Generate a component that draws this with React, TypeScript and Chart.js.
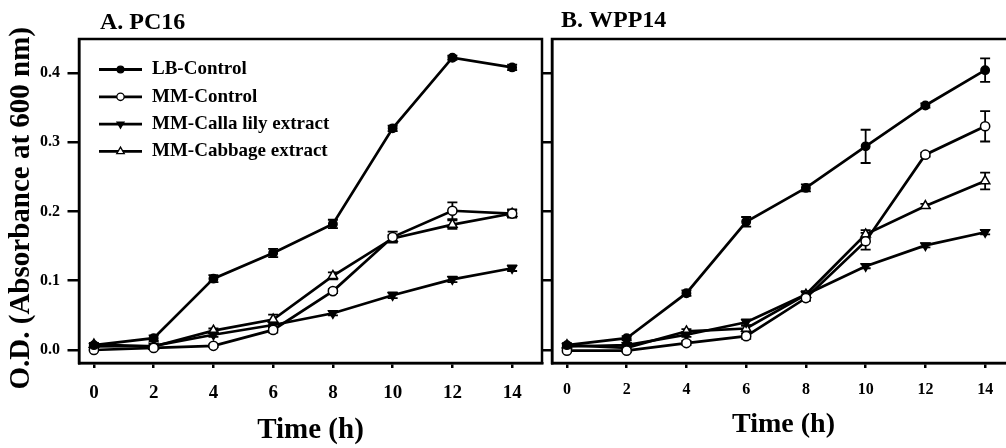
import React, { useEffect, useRef } from 'react';
import { Chart, registerables } from 'chart.js';
import * as helpers from 'chart.js/helpers';

Chart.register(...registerables);

const FONT = '"Liberation Serif", "Times New Roman", serif';

// ---------- data ----------
const timeHours = [0, 2, 4, 6, 8, 10, 12, 14];
const yTickValues = [0, 0.1, 0.2, 0.3, 0.4];
const seriesLabels = ['LB-Control', 'MM-Control', 'MM-Calla lily extract', 'MM-Cabbage extract'];

// Panel A: PC16
const pc16LB = [0.007, 0.017, 0.103, 0.140, 0.182, 0.320, 0.422, 0.408];
const pc16LBErr = [0.003, 0.004, 0.005, 0.006, 0.006, 0.004, 0.003, 0.004];
const pc16MM = [0.000, 0.003, 0.006, 0.029, 0.085, 0.163, 0.201, 0.197];
const pc16MMErr = [0.001, 0.002, 0.002, 0.004, 0.003, 0.008, 0.012, 0.005];
const pc16Calla = [0.005, 0.006, 0.022, 0.036, 0.053, 0.079, 0.102, 0.118];
const pc16CallaErr = [0.002, 0.002, 0.003, 0.004, 0.003, 0.004, 0.004, 0.004];
const pc16Cabbage = [0.008, 0.005, 0.028, 0.044, 0.107, 0.161, 0.181, 0.197];
const pc16CabbageErr = [0.002, 0.002, 0.003, 0.007, 0.005, 0.005, 0.006, 0.006];

// Panel B: WPP14
const wpp14LB = [0.007, 0.017, 0.082, 0.185, 0.234, 0.294, 0.353, 0.404];
const wpp14LBErr = [0.003, 0.003, 0.004, 0.007, 0.005, 0.024, 0.003, 0.017];
const wpp14MM = [-0.001, -0.001, 0.010, 0.020, 0.075, 0.157, 0.282, 0.323];
const wpp14MMErr = [0.002, 0.002, 0.003, 0.004, 0.004, 0.012, 0.003, 0.022];
const wpp14Calla = [0.005, 0.007, 0.022, 0.040, 0.080, 0.121, 0.151, 0.170];
const wpp14CallaErr = [0.002, 0.002, 0.003, 0.004, 0.004, 0.003, 0.003, 0.003];
const wpp14Cabbage = [0.007, 0.003, 0.027, 0.031, 0.080, 0.167, 0.208, 0.244];
const wpp14CabbageErr = [0.002, 0.002, 0.003, 0.004, 0.005, 0.006, 0.003, 0.012];

// ---------- styles ----------
const markerStyles = [
  { pointStyle: 'circle', rotation: 0, fill: '#000000', radius: 4.2 },
  { pointStyle: 'circle', rotation: 0, fill: '#ffffff', radius: 4.6 },
  { pointStyle: 'triangle', rotation: 180, fill: '#000000', radius: 5 },
  { pointStyle: 'triangle', rotation: 0, fill: '#ffffff', radius: 5.4 },
];

function buildDatasets(values: number[][], errors: number[][]) {
  return values.map((vals, i) => ({
    label: seriesLabels[i],
    data: timeHours.map((t, j) => ({ x: t, y: vals[j] })),
    errors: errors[i],
    borderColor: '#000000',
    borderWidth: 2.7,
    tension: 0,
    fill: false,
    pointStyle: markerStyles[i].pointStyle,
    pointRotation: markerStyles[i].rotation,
    pointRadius: markerStyles[i].radius,
    pointBackgroundColor: markerStyles[i].fill,
    pointBorderColor: '#000000',
    pointBorderWidth: 1.5,
  }));
}

const decorPlugin = {
  id: 'decor',
  beforeDatasetsDraw(chart: any) {
    const { ctx } = chart;
    const xs = chart.scales.x;
    const ys = chart.scales.y;
    ctx.save();
    ctx.strokeStyle = '#000';
    ctx.lineWidth = 1.8;
    chart.data.datasets.forEach((ds: any) => {
      const errs = ds.errors;
      if (!errs) return;
      ds.data.forEach((p: any, j: number) => {
        const e = errs[j];
        const px = xs.getPixelForValue(p.x);
        const yt = ys.getPixelForValue(p.y + e);
        const yb = ys.getPixelForValue(p.y - e);
        ctx.beginPath();
        ctx.moveTo(px, yt);
        ctx.lineTo(px, yb);
        ctx.moveTo(px - 5, yt);
        ctx.lineTo(px + 5, yt);
        ctx.moveTo(px - 5, yb);
        ctx.lineTo(px + 5, yb);
        ctx.stroke();
      });
    });
    ctx.restore();
  },
  afterDraw(chart: any, _args: any, opts: any) {
    const { ctx, chartArea: a } = chart;
    ctx.save();
    ctx.strokeStyle = '#000';
    ctx.lineWidth = 2.5;
    ctx.strokeRect(a.left, a.top, a.right - a.left, a.bottom - a.top);
    ctx.fillStyle = '#000';
    ctx.font = `bold ${opts.titleSize}px ${FONT}`;
    ctx.textBaseline = 'middle';
    ctx.textAlign = 'left';
    ctx.fillText(opts.title, opts.titleX, opts.titleY);
    if (opts.legend) {
      const lg = opts.legend;
      chart.data.datasets.forEach((ds: any, i: number) => {
        const y = lg.top + i * lg.step;
        ctx.strokeStyle = '#000';
        ctx.lineWidth = 2.8;
        ctx.beginPath();
        ctx.moveTo(lg.lineStart, y);
        ctx.lineTo(lg.lineEnd, y);
        ctx.stroke();
        ctx.fillStyle = ds.pointBackgroundColor;
        ctx.lineWidth = 1.3;
        helpers.drawPoint(ctx, {
          pointStyle: ds.pointStyle,
          rotation: ds.pointRotation,
          radius: ds.pointRadius * 0.8,
          borderWidth: 1.3,
        } as any, (lg.lineStart + lg.lineEnd) / 2, y);
        ctx.fillStyle = '#000';
        ctx.font = `bold ${lg.fontSize}px ${FONT}`;
        ctx.textBaseline = 'middle';
        ctx.fillText(ds.label, lg.textX, y);
      });
    }
    ctx.restore();
  },
};

function makeConfig(p: any): any {
  return {
    type: 'line',
    data: { datasets: buildDatasets(p.values, p.errors) },
    plugins: [decorPlugin],
    options: {
      responsive: false,
      animation: false,
      devicePixelRatio: 1,
      events: [],
      layout: { padding: { left: 0, top: 39, right: p.rightPad, bottom: 0 } },
      plugins: {
        legend: { display: false },
        tooltip: { enabled: false },
        decor: {
          title: p.title,
          titleX: p.titleX,
          titleY: p.titleY,
          titleSize: 24,
          legend: p.legend,
        },
      },
      scales: {
        x: {
          type: 'linear',
          min: -0.5,
          max: 15,
          afterBuildTicks: (s: any) => {
            s.ticks = timeHours.map((v) => ({ value: v }));
          },
          afterFit: (s: any) => {
            s.height = 448 - 363;
          },
          grid: { drawOnChartArea: false, drawTicks: true, tickLength: 5, color: '#000', lineWidth: 2.5 },
          border: { display: true, color: '#000', width: 2.5 },
          ticks: {
            color: '#000',
            font: { family: FONT, size: p.xTickSize, weight: 'bold' },
            padding: p.xTickPad,
            maxRotation: 0,
            autoSkip: false,
            callback: (v: any) => String(v),
          },
          title: {
            display: true,
            text: 'Time (h)',
            color: '#000',
            font: { family: FONT, size: p.xTitleSize, weight: 'bold' },
            padding: { top: 0, bottom: p.xTitlePadBottom },
          },
        },
        y: {
          type: 'linear',
          min: -0.0188,
          max: 0.449,
          afterBuildTicks: (s: any) => {
            s.ticks = yTickValues.map((v) => ({ value: v }));
          },
          afterFit: (s: any) => {
            s.width = p.yWidth;
          },
          grid: { drawOnChartArea: false, drawTicks: true, tickLength: p.yTickLen, color: '#000', lineWidth: 2.5 },
          border: { display: true, color: '#000', width: 2.5 },
          ticks: {
            display: p.showYLabels,
            color: '#000',
            font: { family: FONT, size: 16, weight: 'bold' },
            padding: 7.5,
            callback: (v: any) => Number(v).toFixed(1),
          },
          title: {
            display: p.showYLabels,
            text: 'O.D. (Absorbance at 600 nm)  ',
            color: '#000',
            font: { family: FONT, size: 29, weight: 'bold' },
            padding: { top: 4.6, bottom: 0 },
          },
        },
      },
    },
  };
}

export default function App() {
  const leftRef = useRef<HTMLCanvasElement>(null);
  const rightRef = useRef<HTMLCanvasElement>(null);

  useEffect(() => {
    const left = new Chart(
      leftRef.current as HTMLCanvasElement,
      makeConfig({
        values: [pc16LB, pc16MM, pc16Calla, pc16Cabbage],
        errors: [pc16LBErr, pc16MMErr, pc16CallaErr, pc16CabbageErr],
        title: 'A. PC16',
        titleX: 100,
        titleY: 23,
        legend: { top: 69.5, step: 27.3, lineStart: 99, lineEnd: 142, textX: 152, fontSize: 19 },
        showYLabels: true,
        yWidth: 79,
        yTickLen: 11.5,
        rightPad: 18,
        xTickSize: 19,
        xTickPad: 13.6,
        xTitleSize: 29,
        xTitlePadBottom: 0,
      })
    );
    const right = new Chart(
      rightRef.current as HTMLCanvasElement,
      makeConfig({
        values: [wpp14LB, wpp14MM, wpp14Calla, wpp14Cabbage],
        errors: [wpp14LBErr, wpp14MMErr, wpp14CallaErr, wpp14CabbageErr],
        title: 'B. WPP14',
        titleX: 21,
        titleY: 21,
        legend: null,
        showYLabels: false,
        yWidth: 12,
        yTickLen: 9,
        rightPad: 25,
        xTickSize: 16,
        xTickPad: 12.4,
        xTitleSize: 28,
        xTitlePadBottom: 6,
      })
    );
    return () => {
      left.destroy();
      right.destroy();
    };
  }, []);

  return (
    <div
      style={{
        position: 'absolute',
        left: 0,
        top: 0,
        width: 1006,
        height: 448,
        overflow: 'hidden',
        background: '#ffffff',
      }}
    >
      <canvas
        ref={leftRef}
        width={560}
        height={448}
        style={{ position: 'absolute', left: 0, top: 0, width: 560, height: 448 }}
      />
      <canvas
        ref={rightRef}
        width={500}
        height={448}
        style={{ position: 'absolute', left: 540, top: 0, width: 500, height: 448 }}
      />
    </div>
  );
}
